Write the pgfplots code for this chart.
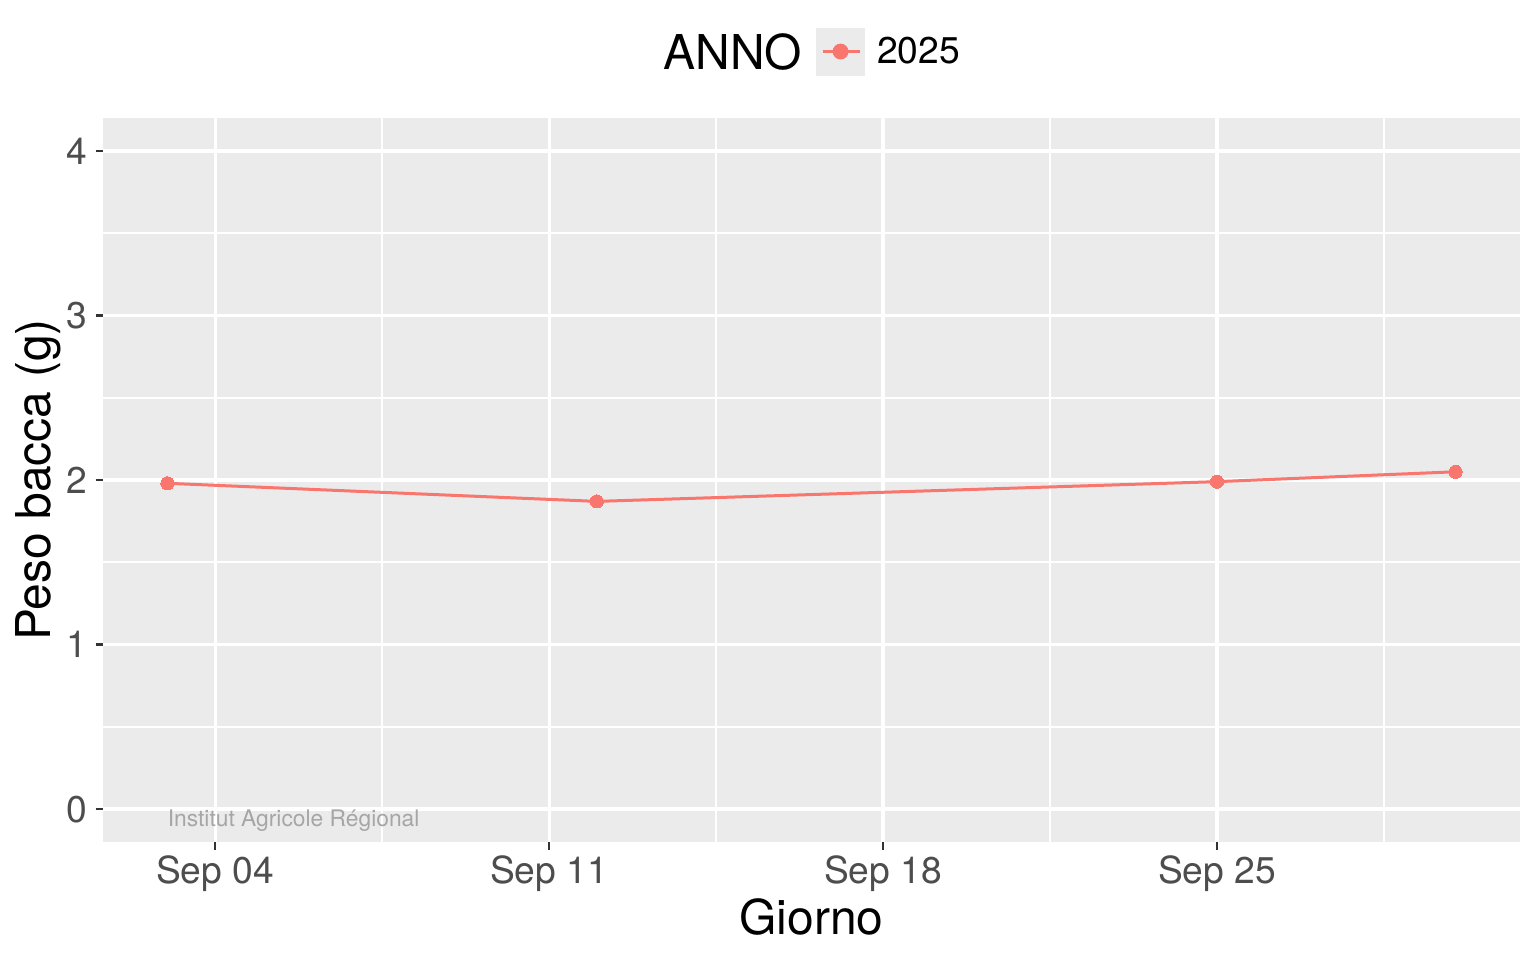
\documentclass[border=0pt]{standalone}
\usepackage{fontspec}
\setmainfont{TeX Gyre Heros}
\usepackage{pgfplots}
\pgfplotsset{compat=1.18}

\definecolor{ggred}{HTML}{F8766D}
\definecolor{panelgray}{HTML}{EBEBEB}
\definecolor{tickgray}{HTML}{333333}
\definecolor{labelgray}{HTML}{4D4D4D}
\definecolor{annogray}{HTML}{A6A6A6}

\newcommand{\ticksize}{\fontsize{18.6pt}{22pt}\selectfont}
\newcommand{\titlesize}{\fontsize{24pt}{28pt}\selectfont}

\begin{document}
\begin{tikzpicture}
\begin{axis}[
    at={(51.5pt,59pt)}, anchor=south west,
    scale only axis, width=708.5pt, height=362pt,
    xmin=1.65, xmax=31.35, ymin=-0.2, ymax=4.2,
    xtick={4,11,18,25},
    xticklabels={Sep 04,Sep 11,Sep 18,Sep 25},
    ytick={0,1,2,3,4},
    minor xtick={7.5,14.5,21.5,28.5},
    minor ytick={0.5,1.5,2.5,3.5},
    grid=both,
    major grid style={white, line width=1.6pt},
    minor grid style={white, line width=0.8pt},
    axis background/.style={fill=panelgray},
    axis line style={draw=none},
    tick align=outside, xtick pos=left, ytick pos=left,
    major tick length=3.75pt, minor tick length=0pt,
    major tick style={tickgray, line width=1.1pt},
    /pgf/number format/assume math mode=true,
    xticklabel style={font=\ticksize, text=labelgray, anchor=base, inner sep=0pt, yshift=-16.9pt},
    yticklabel style={font=\ticksize, text=labelgray, anchor=east, inner sep=0pt, xshift=-3.75pt},
    xlabel={Giorno},
    ylabel={Peso bacca (g)},
    xlabel style={font=\titlesize, at={(axis description cs:0.5,-0.1271)}, anchor=base, inner sep=0pt},
    ylabel style={font=\titlesize, at={(axis description cs:-0.0374,0.5)}, anchor=base, inner sep=0pt},
    legend style={at={(axis description cs:0.5032,1.0918)}, anchor=west,
        draw=none, fill=none, inner sep=0pt, outer sep=0pt,
        nodes={inner sep=0pt}, font=\ticksize},
    legend image code/.code={
        \fill[panelgray] (0pt,-11.25pt) rectangle (23pt,11.25pt);
        \draw[ggred, line width=1.5pt] (2.5pt,0pt) -- (21pt,0pt);
        \fill[ggred] (11.5pt,0pt) circle (3.2pt);
    },
]
\addplot[ggred, line width=1.5pt, mark=*, mark size=3.3pt, mark options={fill=ggred, draw=ggred, line width=0pt}]
coordinates {
    (3,  1.98)
    (12, 1.87)
    (25, 1.99)
    (30, 2.05)
};
\addlegendentry{\hspace*{6pt}2025}
\node[anchor=base west, inner sep=0pt, text=annogray, font=\fontsize{11.4pt}{13pt}\selectfont]
    at (axis cs:3,-0.1035) {Institut Agricole Régional};
\end{axis}
\node[anchor=base west, inner sep=0pt, font=\titlesize] at (331.5pt,445pt) {ANNO};
\pgfresetboundingbox
\path[use as bounding box] (0pt,0pt) rectangle (768pt,480pt);
\end{tikzpicture}
\end{document}
